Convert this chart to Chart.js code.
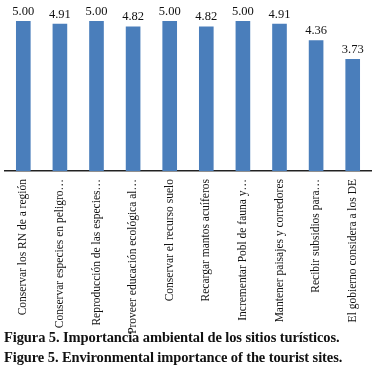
<!DOCTYPE html>
<html>
<head>
<meta charset="utf-8">
<script src="https://cdn.jsdelivr.net/npm/chart.js@4/dist/chart.umd.min.js"></script>
<style>
  body { margin: 0; background: #fff; width: 374px; height: 375px; overflow: hidden; position: relative; }
  #wrap { position: absolute; left: 0; top: 0; width: 374px; height: 338px; }
  .cap { position: absolute; left: 4px; font-family: "Liberation Serif", serif; font-weight: bold; font-size: 14.5px; color: #111; white-space: nowrap; letter-spacing: -0.1px; }
</style>
</head>
<body>
<div id="wrap"><canvas id="grafica"></canvas></div>
<div class="cap" style="top:329px">Figura 5. Importancia ambiental de los sitios turísticos.</div>
<div class="cap" style="top:349px">Figure 5. Environmental importance of the tourist sites.</div>
<script>
const categorias = [
    'Conservar los RN de a región',
    'Conservar especies en peligro…',
    'Reproducción de las especies…',
    'Proveer educación ecológica al…',
    'Conservar el recurso suelo',
    'Recargar mantos acuíferos',
    'Incrementar Pobl de fauna y…',
    'Mantener paisajes y corredores',
    'Recibir subsidios para…',
    'El gobierno considera a los DE'
];
const valores = [5.00, 4.91, 5.00, 4.82, 5.00, 4.82, 5.00, 4.91, 4.36, 3.73];

// etiquetas encima de cada barra
const etiquetasValor = {
    id: 'etiquetasValor',
    afterDatasetsDraw(chart) {
        const ctx = chart.ctx;
        const meta = chart.getDatasetMeta(0);
        ctx.save();
        ctx.font = '12.5px "Liberation Serif", serif';
        ctx.fillStyle = '#111';
        ctx.textAlign = 'center';
        ctx.textBaseline = 'bottom';
        meta.data.forEach((barra, i) => {
            ctx.fillText(valores[i].toFixed(2), barra.x, barra.y - 3);
        });
        ctx.restore();
    }
};

new Chart(document.getElementById('grafica'), {
    type: 'bar',
    data: {
        labels: categorias,
        datasets: [{
            data: valores,
            backgroundColor: '#4a7ebb',
            categoryPercentage: 1,
            barPercentage: 0.4
        }]
    },
    options: {
        responsive: true,
        maintainAspectRatio: false,
        animation: false,
        layout: { padding: { left: 5, right: 3, top: 21, bottom: 0 } },
        plugins: { legend: { display: false }, tooltip: { enabled: false } },
        scales: {
            y: { display: false, min: 0, max: 5 },
            x: {
                grid: { display: false },
                border: { color: '#222', width: 1.5 },
                ticks: {
                    color: '#111',
                    font: { family: '"Liberation Serif", serif', size: 11.5 },
                    minRotation: 90,
                    maxRotation: 90,
                    autoSkip: false,
                    padding: 0
                },
                afterFit(scale) { scale.height = 167; }
            }
        }
    },
    plugins: [etiquetasValor]
});
</script>
</body>
</html>
